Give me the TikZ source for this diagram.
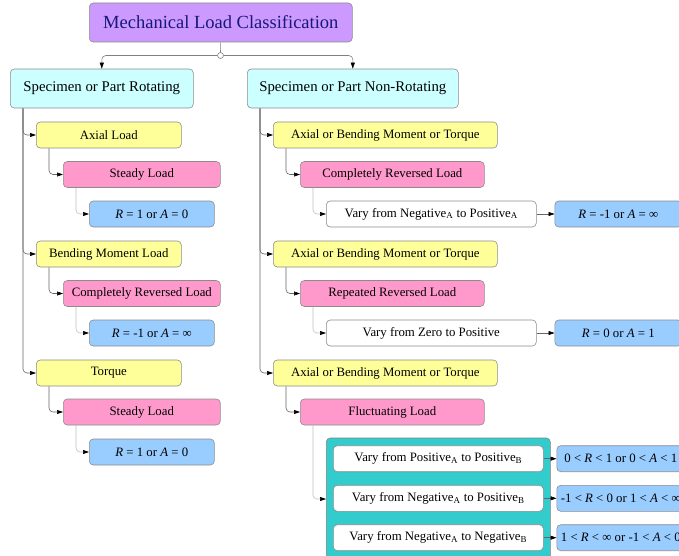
\documentclass[tikz,border=0pt]{standalone}
\usepackage{fontspec}
\setmainfont{Liberation Serif}
\usetikzlibrary{arrows.meta, positioning}

\definecolor{rootfill}{HTML}{CC99FF}
\definecolor{roottext}{HTML}{18187A}
\definecolor{specfill}{HTML}{CCFFFF}
\definecolor{loadfill}{HTML}{FFFF99}
\definecolor{kindfill}{HTML}{FF99CC}
\definecolor{ratiofill}{HTML}{99CCFF}
\definecolor{groupfill}{HTML}{33CCCC}

\begin{document}
\begin{tikzpicture}[
x=1pt, y=-1pt,
every node/.style={draw=black!45, line width=0.6pt, rounded corners=4pt, anchor=west, align=center,
  minimum height=26pt, inner sep=0pt, font=\fontsize{12.8}{14}\selectfont},
root/.style={fill=rootfill, text=roottext, minimum height=39pt, font=\fontsize{18.5}{20}\selectfont},
spec/.style={fill=specfill, minimum height=39pt, font=\fontsize{14.8}{16}\selectfont},
load/.style={fill=loadfill},
kind/.style={fill=kindfill},
ratio/.style={fill=ratiofill},
vary/.style={fill=white},
group/.style={fill=groupfill, draw=black!50},
junc/.style={circle, fill=white, draw=black!50, anchor=center, minimum size=6pt, minimum height=6pt},
arrow/.style={draw=black!60, line width=0.6pt, rounded corners=4pt, -{Triangle[length=6pt, width=4pt, color=black]}},
soft/.style={arrow, draw=black!25}
]
\useasboundingbox (0,0) rectangle (679,556);

% top
\node[root, minimum width=263pt] (mlc) at (89,22.5) {Mechanical Load Classification};
\node[junc] (junc) at (220.5,55.5) {};
\node[spec, minimum width=183pt] (rot) at (10,88.5) {Specimen or Part Rotating};
\node[spec, minimum width=211pt] (nonrot) at (247,88.5) {Specimen or Part Non-Rotating};

% rotating
\node[load, minimum width=145pt] (axial) at (36,135) {Axial Load};
\node[kind, minimum width=157pt] (steadyA) at (63,174.5) {Steady Load};
\node[ratio, minimum width=125pt] (ratioA) at (89,214) {\textit{R} = 1 or \textit{A} = 0};
\node[load, minimum width=145pt] (bend) at (36,254) {Bending Moment Load};
\node[kind, minimum width=157pt] (revB) at (63,293.5) {Completely Reversed Load};
\node[ratio, minimum width=125pt] (ratioB) at (89,333) {\textit{R} = -1 or \textit{A} = ∞};
\node[load, minimum width=145pt] (torq) at (36,373) {Torque};
\node[kind, minimum width=157pt] (steadyC) at (63,412) {Steady Load};
\node[ratio, minimum width=125pt] (ratioC) at (89,452) {\textit{R} = 1 or \textit{A} = 0};

% non-rotating
\node[load, minimum width=224pt] (abtA) at (273,135) {Axial or Bending Moment or Torque};
\node[kind, minimum width=184pt] (revA) at (300,174.5) {Completely Reversed Load};
\node[vary, minimum width=210pt] (negpos) at (326,214) {Vary from Negative\textsubscript{A} to Positive\textsubscript{A}};
\node[ratio, minimum width=127pt] (ratioD) at (554.5,214) {\textit{R} = -1 or \textit{A} = ∞};
\node[load, minimum width=224pt] (abtB) at (273,254) {Axial or Bending Moment or Torque};
\node[kind, minimum width=184pt] (repB) at (300,293.5) {Repeated Reversed Load};
\node[vary, minimum width=210pt] (zeropos) at (326,333) {Vary from Zero to Positive};
\node[ratio, minimum width=127pt] (ratioE) at (554.5,333) {\textit{R} = 0 or \textit{A} = 1};
\node[load, minimum width=224pt] (abtC) at (273,373) {Axial or Bending Moment or Torque};
\node[kind, minimum width=184pt] (fluct) at (300,412) {Fluctuating Load};
\node[group, minimum width=224pt, minimum height=122pt] (grp) at (326,499) {};
\node[vary, minimum width=210pt] (pp) at (333,458.7) {Vary from Positive\textsubscript{A} to Positive\textsubscript{B}};
\node[vary, minimum width=210pt] (np) at (333,498.3) {Vary from Negative\textsubscript{A} to Positive\textsubscript{B}};
\node[vary, minimum width=210pt] (nn) at (333,537.7) {Vary from Negative\textsubscript{A} to Negative\textsubscript{B}};
\node[ratio, minimum width=128pt] (ratioF) at (556.5,458.7) {0 < \textit{R} < 1 or 0 < \textit{A} < 1};
\node[ratio, minimum width=128pt] (ratioG) at (556.5,498.3) {-1 < \textit{R} < 0 or 1 < \textit{A} < ∞};
\node[ratio, minimum width=128pt] (ratioH) at (556.5,537.7) {1 < \textit{R} < ∞ or -1 < \textit{A} < 0};

% connectors
\draw[draw=black!50, line width=0.6pt] (mlc) -- (junc);
\draw[arrow, draw=black!50] (junc) -| (rot);
\draw[arrow, draw=black!50] (junc) -| (nonrot);

\draw[arrow] ([xshift=13pt]rot.south west) |- (axial);
\draw[arrow] ([xshift=13pt]rot.south west) |- (bend);
\draw[arrow] ([xshift=13pt]rot.south west) |- (torq);
\draw[arrow] ([xshift=13pt]axial.south west) |- (steadyA);
\draw[arrow] ([xshift=13pt]bend.south west) |- (revB);
\draw[arrow] ([xshift=13pt]torq.south west) |- (steadyC);
\draw[soft] ([xshift=13pt]steadyA.south west) |- (ratioA);
\draw[soft] ([xshift=13pt]revB.south west) |- (ratioB);
\draw[soft] ([xshift=13pt]steadyC.south west) |- (ratioC);

\draw[arrow] ([xshift=13pt]nonrot.south west) |- (abtA);
\draw[arrow] ([xshift=13pt]nonrot.south west) |- (abtB);
\draw[arrow] ([xshift=13pt]nonrot.south west) |- (abtC);
\draw[arrow] ([xshift=13pt]abtA.south west) |- (revA);
\draw[arrow] ([xshift=13pt]abtB.south west) |- (repB);
\draw[arrow] ([xshift=13pt]abtC.south west) |- (fluct);
\draw[soft] ([xshift=13pt]revA.south west) |- (negpos);
\draw[soft] ([xshift=13pt]repB.south west) |- (zeropos);
\draw[soft] ([xshift=13pt]fluct.south west) |- (grp);

\draw[arrow] (negpos) -- (ratioD);
\draw[arrow] (zeropos) -- (ratioE);
\draw[arrow] (pp) -- (ratioF);
\draw[arrow] (np) -- (ratioG);
\draw[arrow] (nn) -- (ratioH);

\end{tikzpicture}
\end{document}
